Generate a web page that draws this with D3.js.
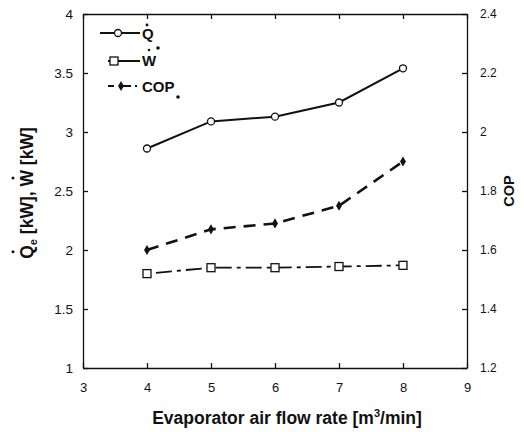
<!DOCTYPE html>
<html>
<head>
<meta charset="utf-8">
<script src="https://cdn.jsdelivr.net/npm/d3@7"></script>
<style>
  body { margin: 0; background: #fff; }
  text { font-family: "Liberation Sans", Arial, sans-serif; fill: #111; }
  .eixo path, .eixo line { stroke: #111; stroke-width: 1.3; }
  .titulo { font-size: 17.5px; font-weight: bold; }
  .legenda { font-size: 15px; font-weight: bold; }
</style>
</head>
<body>
<svg id="grafico"></svg>
<script>
const vazoes = [4, 5, 6, 7, 8];
const calorQ = [2.86, 3.09, 3.13, 3.25, 3.54];
const trabalhoW = [1.80, 1.85, 1.85, 1.86, 1.87];
const cop = [1.60, 1.67, 1.69, 1.75, 1.90];
const ticksX = [3, 4, 5, 6, 7, 8, 9];
const ticksEsq = [1, 1.5, 2, 2.5, 3, 3.5, 4];
const ticksDir = [1.2, 1.4, 1.6, 1.8, 2, 2.2, 2.4];

const largura = 524, altura = 432;
const margem = { esquerda: 83, direita: 57, superior: 14, inferior: 64 };
const larguraPlotagem = largura - margem.esquerda - margem.direita;
const alturaPlotagem = altura - margem.superior - margem.inferior;

const svg = d3.select('#grafico').attr('width', largura).attr('height', altura);
const plotagem = svg.append('g').attr('transform', `translate(${margem.esquerda}, ${margem.superior})`);

const x = d3.scaleLinear().domain([3, 9]).range([0, larguraPlotagem]);
const y = d3.scaleLinear().domain([1, 4]).range([alturaPlotagem, 0]);
const y2 = d3.scaleLinear().domain([1.2, 2.4]).range([alturaPlotagem, 0]);

const eixoX = plotagem.append('g').attr('class', 'eixo')
  .attr('transform', `translate(0, ${alturaPlotagem})`)
  .call(d3.axisBottom(x).tickValues(ticksX).tickSizeInner(-5).tickSizeOuter(0).tickPadding(15).tickFormat(d3.format('d')));
plotagem.append('g').attr('class', 'eixo')
  .call(d3.axisTop(x).tickValues(ticksX).tickSizeInner(-5).tickSizeOuter(0).tickFormat(''));
const eixoY = plotagem.append('g').attr('class', 'eixo')
  .call(d3.axisLeft(y).tickValues(ticksEsq).tickSizeInner(-5).tickSizeOuter(0).tickPadding(10).tickFormat(d => String(d)));
const eixoY2 = plotagem.append('g').attr('class', 'eixo')
  .attr('transform', `translate(${larguraPlotagem}, 0)`)
  .call(d3.axisRight(y2).tickValues(ticksDir).tickSizeInner(-5).tickSizeOuter(0).tickPadding(13).tickFormat(d => String(d)));
plotagem.selectAll('.eixo text').attr('font-family', null);
eixoX.selectAll('text').style('font-size', '13px');
eixoY.selectAll('text').style('font-size', '13.5px');
eixoY2.selectAll('text').style('font-size', '12px');

const linha = escala => d3.line().x((d, i) => x(vazoes[i])).y(d => escala(d));

// Q
plotagem.append('path').datum(calorQ).attr('d', linha(y))
  .attr('fill', 'none').attr('stroke', '#111').attr('stroke-width', 2);
plotagem.selectAll('.marcaQ').data(calorQ).enter().append('circle')
  .attr('cx', (d, i) => x(vazoes[i])).attr('cy', d => y(d)).attr('r', 3.5)
  .attr('fill', '#fff').attr('stroke', '#111').attr('stroke-width', 1.3);

// W
plotagem.append('path').datum(trabalhoW).attr('d', linha(y))
  .attr('fill', 'none').attr('stroke', '#111').attr('stroke-width', 1.8)
  .attr('stroke-dasharray', '4,5,16,5');
plotagem.selectAll('.marcaW').data(trabalhoW).enter().append('rect')
  .attr('x', (d, i) => x(vazoes[i]) - 4).attr('y', d => y(d) - 4)
  .attr('width', 8).attr('height', 8)
  .attr('fill', '#fff').attr('stroke', '#111').attr('stroke-width', 1.3);

// COP
plotagem.append('path').datum(cop).attr('d', linha(y2))
  .attr('fill', 'none').attr('stroke', '#111').attr('stroke-width', 2.6)
  .attr('stroke-dasharray', '12,8');
plotagem.selectAll('.marcaC').data(cop).enter().append('path')
  .attr('transform', (d, i) => `translate(${x(vazoes[i])}, ${y2(d)})`)
  .attr('d', d3.symbol(d3.symbolDiamond, 30))
  .attr('fill', '#111');

// legenda (coordenadas da página)
const leg = svg.append('g');
leg.append('line').attr('x1', 100).attr('x2', 140).attr('y1', 33).attr('y2', 33).attr('stroke', '#111').attr('stroke-width', 2);
leg.append('circle').attr('cx', 118).attr('cy', 33).attr('r', 3.5).attr('fill', '#fff').attr('stroke', '#111').attr('stroke-width', 1.3);
leg.append('text').attr('class', 'legenda').attr('x', 142).attr('y', 39).text('Q');
leg.append('circle').attr('cx', 147).attr('cy', 25).attr('r', 1.4).attr('fill', '#111');
leg.append('circle').attr('cx', 158).attr('cy', 48).attr('r', 1.8).attr('fill', '#111');

leg.append('line').attr('x1', 108).attr('x2', 140).attr('y1', 61).attr('y2', 61)
  .attr('stroke', '#111').attr('stroke-width', 1.8).attr('stroke-dasharray', '3,2,40');
leg.append('rect').attr('x', 110).attr('y', 57).attr('width', 8).attr('height', 8)
  .attr('fill', '#fff').attr('stroke', '#111').attr('stroke-width', 1.3);
leg.append('text').attr('class', 'legenda').attr('x', 142).attr('y', 66).text('W');
leg.append('circle').attr('cx', 149).attr('cy', 50).attr('r', 1.3).attr('fill', '#111');

leg.append('line').attr('x1', 108).attr('x2', 137).attr('y1', 86).attr('y2', 86)
  .attr('stroke', '#111').attr('stroke-width', 2).attr('stroke-dasharray', '6,8,9,4,12');
leg.append('path').attr('transform', 'translate(121, 86)').attr('d', d3.symbol(d3.symbolDiamond, 30)).attr('fill', '#111');
leg.append('text').attr('class', 'legenda').attr('x', 142).attr('y', 92).text('COP');
leg.append('circle').attr('cx', 178).attr('cy', 97).attr('r', 1.8).attr('fill', '#111');

// títulos dos eixos
svg.append('text').attr('class', 'titulo')
  .style('text-anchor', 'middle')
  .attr('transform', 'translate(287, 424)')
  .html('Evaporator air flow rate [m<tspan dy="-7" font-size="11">3</tspan><tspan dy="7">/min]</tspan>');

const tituloY = svg.append('text').attr('class', 'titulo')
  .style('text-anchor', 'middle')
  .attr('transform', 'translate(33, 193) rotate(-90)');
tituloY.append('tspan').text('Q');
tituloY.append('tspan').attr('dy', 4).attr('font-size', 11).text('e');
tituloY.append('tspan').attr('dy', -4).text(' [kW], W [kW]');
// pontos sobre Q e W
const caixa = tituloY.node().getBBox();
svg.append('circle').attr('cx', 13).attr('cy', 193 + caixa.width / 2 - 7).attr('r', 1.5).attr('fill', '#111');
svg.append('circle').attr('cx', 13).attr('cy', 178).attr('r', 1.5).attr('fill', '#111');

svg.append('text').attr('class', 'titulo')
  .style('font-size', '14.5px')
  .style('text-anchor', 'middle')
  .attr('transform', 'translate(514, 191) rotate(-90)')
  .text('COP');
</script>
</body>
</html>
